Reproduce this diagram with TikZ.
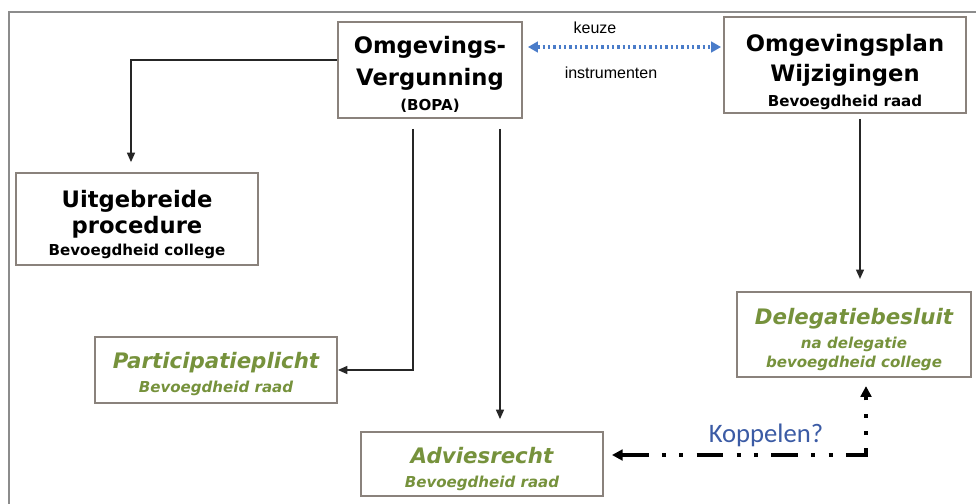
\documentclass[tikz,border=0pt]{standalone}
\usepackage{fontspec}
\setmainfont{DejaVu Sans}
\newfontfamily\lab{Liberation Sans}
\newfontfamily\kop{Carlito}
\usetikzlibrary{calc,arrows.meta}
\definecolor{boxline}{HTML}{8A827C}
\definecolor{frameline}{HTML}{8C8C8C}
\definecolor{olive}{HTML}{76923C}
\definecolor{kblue}{HTML}{3B5BA5}
\definecolor{dotblue}{HTML}{4A7CC9}
\tikzset{
  box/.style={draw=boxline, line width=1.4pt, rectangle, inner sep=0pt},
  txt/.style={align=center, inner sep=0pt},
  conn/.style={draw=black!85, line width=0.9pt, -{Triangle[length=7pt,width=6pt]}},
}
\newcommand{\bttl}[1]{{\fontsize{17}{20}\selectfont\bfseries #1}}
\newcommand{\subb}[1]{{\fontsize{11.3}{14}\selectfont\bfseries #1}}
\newcommand{\gttl}[1]{{\fontsize{16}{19}\selectfont\bfseries\itshape #1}}
\newcommand{\gsub}[1]{{\fontsize{11.3}{14}\selectfont\bfseries\itshape #1}}
\begin{document}
\begin{tikzpicture}[x=0.75pt,y=-0.75pt]
\useasboundingbox (0,0) rectangle (976,504);
\fill[white] (0,0) rectangle (976,504);
\draw[frameline, line width=1.5pt] (9,504) -- (9,12) -- (976,12);

% boxes
\node[box, minimum width=138pt, minimum height=72pt] (OV) at (430,70) {};
\node[box, minimum width=181.5pt, minimum height=72pt] (OP) at (845,65) {};
\node[box, minimum width=181.5pt, minimum height=69pt] (UP) at (137,219) {};
\node[box, minimum width=181.5pt, minimum height=49.5pt] (PP) at (216,370) {};
\node[box, minimum width=181.5pt, minimum height=48pt] (AR) at (482,464) {};
\node[box, minimum width=175.5pt, minimum height=64pt] (DB) at (854,334.5) {};

% texts
\node[txt] (OVt) at (430,74.5)
  {\bttl{Omgevings-}\\[6.25pt] \bttl{Vergunning}\\[5.75pt] \subb{(BOPA)}};
\node[txt] (OPt) at (845,72)
  {\bttl{Omgevingsplan}\\[5pt] \bttl{Wijzigingen}\\[6pt] \subb{Bevoegdheid raad}};
\node[txt] (UPt) at (137,224.5)
  {\bttl{Uitgebreide}\\[2pt] \bttl{procedure}\\[3.75pt] \subb{Bevoegdheid college}};
\node[txt, text=olive] (PPt) at (216,374)
  {\gttl{Participatieplicht}\\[6pt] \gsub{Bevoegdheid raad}};
\node[txt, text=olive] (ARt) at (482,469.5)
  {\gttl{Adviesrecht}\\[6pt] \gsub{Bevoegdheid raad}};
\node[txt, text=olive] (DBt) at (854,339.5)
  {\gttl{Delegatiebesluit}\\[4.5pt] \gsub{na delegatie}\\[2.25pt] \gsub{bevoegdheid college}};

% connectors
\coordinate (a1) at ($(OV.west)+(0,-10)$);
\draw[conn, shorten >=7.5pt] (a1) -| ($(UP.north)+(-6,0)$);
\coordinate (a2) at ($(OV.south)+(-17,10)$);
\draw[conn] (a2) |- (PP.east);
\coordinate (a3) at ($(OV.south)+(70,10)$);
\draw[conn, shorten >=9pt] (a3) -- (a3 |- AR.north);
\coordinate (a4) at ($(OP.south)+(15,5)$);
\draw[conn, shorten >=9pt] (a4) -- (a4 |- DB.north);

% keuze instrumenten
\coordinate (k1) at ($(OV.east)+(5,-23)$);
\coordinate (k2) at ($(OP.west)+(-2,-18)$);
\draw[dotblue, line width=2.6pt, dash pattern=on 1.8pt off 2.2pt,
  {Triangle[length=7.5pt,width=8pt]}-{Triangle[length=7.5pt,width=8pt]}] (k1) -- (k2);
\node[font=\lab\fontsize{12}{14}\selectfont] (keuze) at (595,28) {keuze};
\node[font=\lab\fontsize{12}{14}\selectfont] (instr) at (611,73) {instrumenten};

% koppelen
\coordinate (c1) at ($(AR.east)+(8,-9)$);
\coordinate (c3) at ($(DB.south)+(12,8)$);
\coordinate (c2) at (c3 |- c1);
\draw[black, line width=3pt,
  dash pattern=on 20pt off 10pt on 3pt off 10pt on 3pt off 10pt,
  {Triangle[length=8pt,width=8pt]}-{Triangle[length=8pt,width=8pt]}] (c1) -- (c2) -- (c3);
\node[font=\kop\fontsize{20}{24}\selectfont, text=kblue] (kop) at (766,435) {Koppelen?};
\end{tikzpicture}
\end{document}
